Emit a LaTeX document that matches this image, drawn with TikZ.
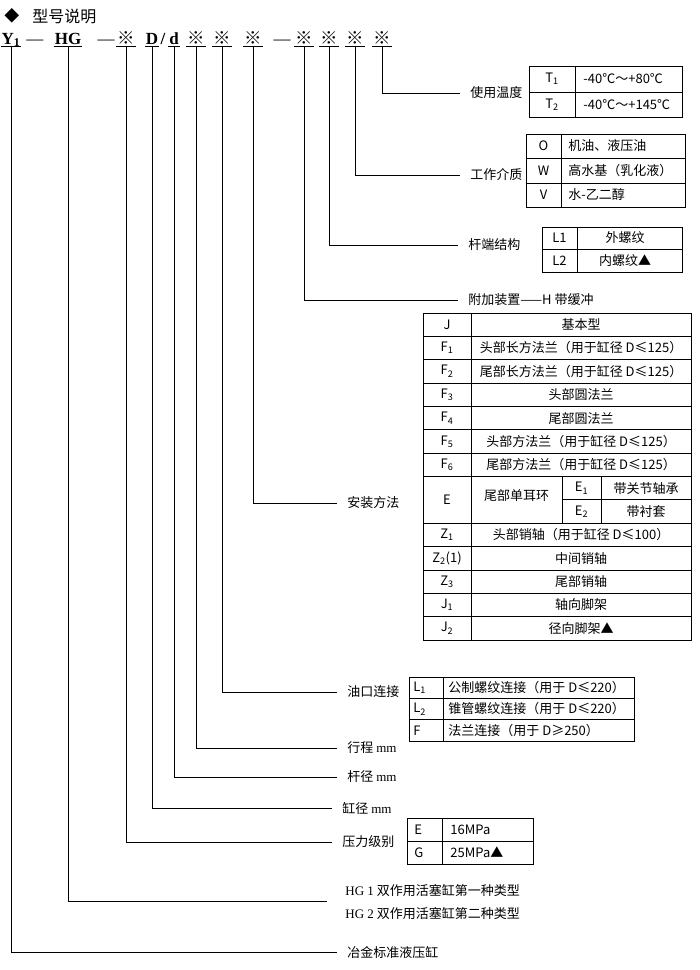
\documentclass[tikz,border=0pt]{standalone}
\usepackage{fontspec}
\setmainfont{Noto Sans CJK SC}
\newfontfamily\codefont{Liberation Serif}
\usetikzlibrary{arrows.meta}

\begin{document}
\begin{tikzpicture}[x=1pt,y=-1pt,line width=0.8pt,
  codeitem/.style={font=\codefont\bfseries\fontsize{17}{17}\selectfont,inner xsep=0.5pt,inner ysep=1.5pt,text depth=0pt,anchor=south},
  codesym/.style={codeitem,font=\fontsize{17.5}{17.5}\selectfont},
  codesep/.style={font=\codefont\fontsize{17}{17}\selectfont,inner sep=0pt,text depth=0pt,anchor=base},
  desc/.style={font=\fontsize{13}{13}\selectfont,inner sep=0pt,anchor=west},
  tcell/.style={font=\fontsize{13}{13}\selectfont,inner sep=0pt},
  leader/.style={shorten >=10pt}]
\useasboundingbox (0,0) rectangle (700,970);

\node[font=\fontsize{15}{15}\selectfont,inner sep=0pt] (diamond) at (12,16) {◆};
\node[font=\fontsize{16}{16}\selectfont,inner sep=0pt,anchor=west] (title) at (32,16) {型号说明};

\node[codeitem] (y1) at (11,46) {Y\textsubscript{1}};
\node[codesep] (sep1) at (35,44.5) {—};
\node[codeitem] (hg) at (68,46) {HG};
\node[codesep] (sep2) at (106,44.5) {—};
\node[codesym] (k1) at (126,46) {※};
\node[codeitem] (bore) at (152,46) {D};
\node[codeitem,inner ysep=0pt,anchor=base] (slash) at (163,44.5) {/};
\node[codeitem] (rod) at (174,46) {d};
\node[codesym] (k2) at (196,46) {※};
\node[codesym] (k3) at (222,46) {※};
\node[codesym] (k4) at (253,46) {※};
\node[codesep] (sep3) at (282,44.5) {—};
\node[codesym] (k5) at (304,46) {※};
\node[codesym] (k6) at (329,46) {※};
\node[codesym] (k7) at (355,46) {※};
\node[codesym] (k8) at (382,46) {※};
\foreach \n in {y1,hg,k1,bore,rod,k2,k3,k4,k5,k6,k7,k8}
  \draw (\n.south west) -- (\n.south east);

\node[desc] (temp) at (470,93) {使用温度};
\node[desc] (medium) at (470,175) {工作介质};
\node[desc] (rodend) at (468,245) {杆端结构};
\node[desc] (extra) at (468,300) {附加装置——H 带缓冲};
\node[desc] (mount) at (347,503) {安装方法};
\node[desc] (port) at (347,692) {油口连接};
\node[desc] (stroke) at (347,748) {行程 {\codefont mm}};
\node[desc] (roddia) at (347,777) {杆径 {\codefont mm}};
\node[desc] (boredia) at (342,808) {缸径 {\codefont mm}};
\node[desc] (press) at (342,842) {压力级别};
\node[desc,align=left,font=\fontsize{13}{23}\selectfont] (type) at (345,901.5) {{\codefont HG 1} 双作用活塞缸第一种类型\\{\codefont HG 2} 双作用活塞缸第二种类型};
\node[desc] (std) at (347,952) {冶金标准液压缸};

\draw[leader] (k8.south) |- (temp.west);
\draw[leader] (k7.south) |- (medium.west);
\draw[leader] (k6.south) |- (rodend.west);
\draw[leader] (k5.south) |- (extra.west);
\draw[leader] (k4.south) |- (mount.west);
\draw[leader] (k3.south) |- (port.west);
\draw[leader] (k2.south) |- (stroke.west);
\draw[leader] (rod.south) |- (roddia.west);
\draw[leader] (bore.south) |- (boredia.west);
\draw[leader] (k1.south) |- (press.west);
\draw[leader,shorten >=18pt] (hg.south) |- (type.west);
\draw[leader] (y1.south) |- (std.west);

\draw (529,66) rectangle (682,117) (529,92)--(682,92) (575,66)--(575,117);
\node[tcell] (t1) at (552,79) {T\textsubscript{1}};
\node[tcell] (t2) at (552,104.5) {T\textsubscript{2}};
\node[tcell,anchor=west] (t1v) at (583,79) {-40℃～+80℃};
\node[tcell,anchor=west] (t2v) at (583,104.5) {-40℃～+145℃};

\draw (526,134) rectangle (685,207) (526,158)--(685,158) (526,183)--(685,183) (561,134)--(561,207);
\node[tcell] (mo) at (543.5,146) {O};
\node[tcell] (mw) at (543.5,170.5) {W};
\node[tcell] (mv) at (543.5,195) {V};
\node[tcell,anchor=west] (mov) at (568,146) {机油、液压油};
\node[tcell,anchor=west] (mwv) at (568,170.5) {高水基（乳化液）};
\node[tcell,anchor=west] (mvv) at (568,195) {水-乙二醇};

\draw (542,227) rectangle (682,272) (542,249.5)--(682,249.5) (577,227)--(577,272);
\node[tcell] (l1) at (559.5,238) {L1};
\node[tcell] (l2) at (559.5,261) {L2};
\node[tcell] (l1v) at (625,238) {外螺纹};
\node[tcell] (l2v) at (625,261) {内螺纹▲};

\draw (423,313) rectangle (691,640) (471,313)--(471,640);
\foreach \k in {1,...,7,9,10,11,12,13}
  \draw (423,{313+23.36*\k}) -- (691,{313+23.36*\k});
\draw (562,{313+23.36*8}) -- (691,{313+23.36*8});
\draw (562,{313+23.36*7}) -- (562,{313+23.36*9}) (601,{313+23.36*7}) -- (601,{313+23.36*9});
\node[tcell] (mj) at (447,{313+23.36*0.5}) {J};
\node[tcell] (mf1) at (447,{313+23.36*1.5}) {F\textsubscript{1}};
\node[tcell] (mf2) at (447,{313+23.36*2.5}) {F\textsubscript{2}};
\node[tcell] (mf3) at (447,{313+23.36*3.5}) {F\textsubscript{3}};
\node[tcell] (mf4) at (447,{313+23.36*4.5}) {F\textsubscript{4}};
\node[tcell] (mf5) at (447,{313+23.36*5.5}) {F\textsubscript{5}};
\node[tcell] (mf6) at (447,{313+23.36*6.5}) {F\textsubscript{6}};
\node[tcell] (me) at (447,{313+23.36*8}) {E};
\node[tcell] (mz1) at (447,{313+23.36*9.5}) {Z\textsubscript{1}};
\node[tcell] (mz2) at (447,{313+23.36*10.5}) {Z\textsubscript{2}(1)};
\node[tcell] (mz3) at (447,{313+23.36*11.5}) {Z\textsubscript{3}};
\node[tcell] (mj1) at (447,{313+23.36*12.5}) {J\textsubscript{1}};
\node[tcell] (mj2) at (447,{313+23.36*13.5}) {J\textsubscript{2}};
\node[tcell] (mjv) at (581,{313+23.36*0.5}) {基本型};
\node[tcell] (mf1v) at (581,{313+23.36*1.5}) {头部长方法兰（用于缸径 D≤125）};
\node[tcell] (mf2v) at (581,{313+23.36*2.5}) {尾部长方法兰（用于缸径 D≤125）};
\node[tcell] (mf3v) at (581,{313+23.36*3.5}) {头部圆法兰};
\node[tcell] (mf4v) at (581,{313+23.36*4.5}) {尾部圆法兰};
\node[tcell] (mf5v) at (581,{313+23.36*5.5}) {头部方法兰（用于缸径 D≤125）};
\node[tcell] (mf6v) at (581,{313+23.36*6.5}) {尾部方法兰（用于缸径 D≤125）};
\node[tcell] (mev) at (516.5,{313+23.36*8-4}) {尾部单耳环};
\node[tcell] (me1) at (581.5,{313+23.36*7.5}) {E\textsubscript{1}};
\node[tcell] (me2) at (581.5,{313+23.36*8.5}) {E\textsubscript{2}};
\node[tcell] (me1v) at (646,{313+23.36*7.5}) {带关节轴承};
\node[tcell] (me2v) at (646,{313+23.36*8.5}) {带衬套};
\node[tcell] (mz1v) at (581,{313+23.36*9.5}) {头部销轴（用于缸径 D≤100）};
\node[tcell] (mz2v) at (581,{313+23.36*10.5}) {中间销轴};
\node[tcell] (mz3v) at (581,{313+23.36*11.5}) {尾部销轴};
\node[tcell] (mj1v) at (581,{313+23.36*12.5}) {轴向脚架};
\node[tcell] (mj2v) at (581,{313+23.36*13.5}) {径向脚架▲};

\draw (409,677) rectangle (634,741) (409,698.3)--(634,698.3) (409,719.7)--(634,719.7) (443,677)--(443,741);
\node[tcell,anchor=west] (pl1) at (413,687.7) {L\textsubscript{1}};
\node[tcell,anchor=west] (pl2) at (413,709) {L\textsubscript{2}};
\node[tcell,anchor=west] (pf) at (413,730.3) {F};
\node[tcell,anchor=west] (pl1v) at (448,687.7) {公制螺纹连接（用于 D≤220）};
\node[tcell,anchor=west] (pl2v) at (448,709) {锥管螺纹连接（用于 D≤220）};
\node[tcell,anchor=west] (pfv) at (448,730.3) {法兰连接（用于 D≥250）};

\draw (407,818) rectangle (533,864) (407,841)--(533,841) (442,818)--(442,864);
\node[tcell,anchor=west] (pe) at (414,829.5) {E};
\node[tcell,anchor=west] (pg) at (414,852.5) {G};
\node[tcell,anchor=west] (pev) at (450,829.5) {16MPa};
\node[tcell,anchor=west] (pgv) at (450,852.5) {25MPa▲};
\end{tikzpicture}
\end{document}
